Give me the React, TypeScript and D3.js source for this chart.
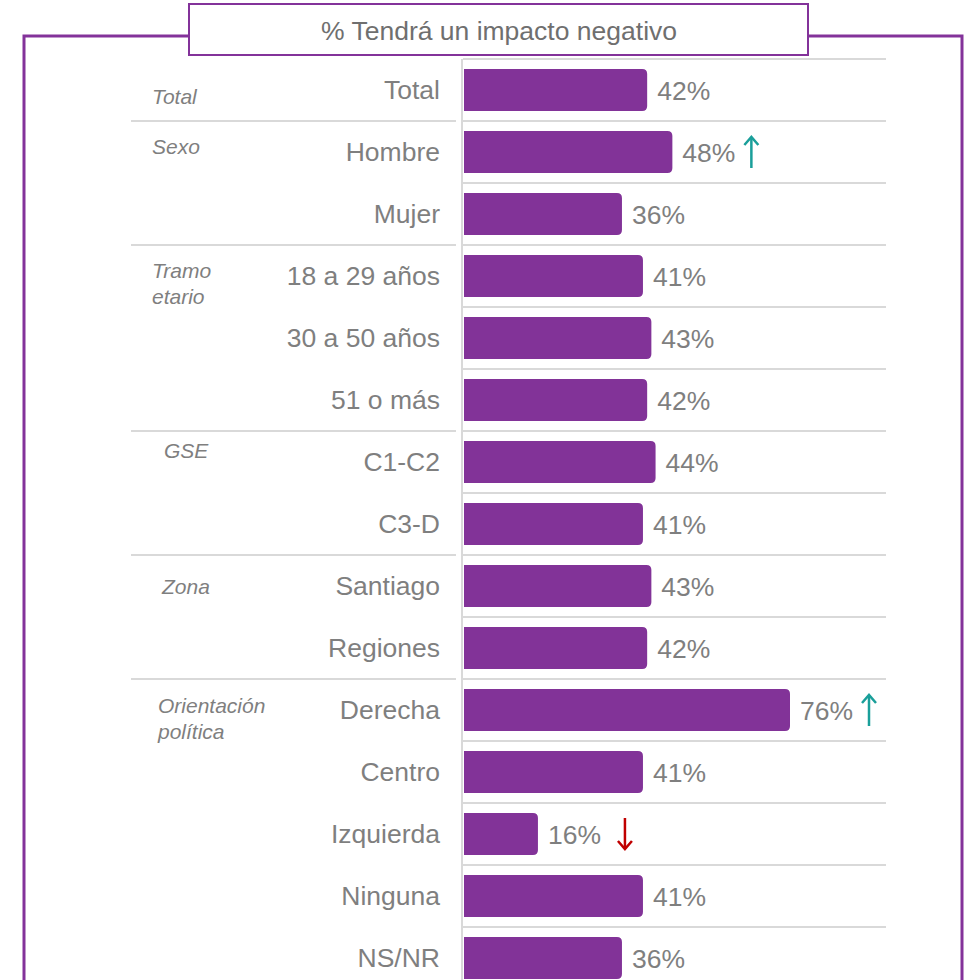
import React from "react";
import * as d3 from "d3";

const categories = ["Total","Hombre","Mujer","18 a 29 años","30 a 50 años","51 o más","C1-C2","C3-D","Santiago","Regiones","Derecha","Centro","Izquierda","Ninguna","NS/NR"];
const values = [42,48,36,41,43,42,44,41,43,42,76,41,16,41,36];
const markers = ["","up","","","","","","","","","up","","down","",""];
const groupNames = [["Total"],["Sexo"],["Tramo","etario"],["GSE"],["Zona"],["Orientación","política"]];
const groupStart = [0,1,3,6,8,10];
const title = "% Tendrá un impacto negativo";

const W = 971, H = 980;
const PURPLE = "#83329A";
const BAR = "#823398";
const GRID = "#d9d9d9";
const TXT = "#7f7f7f";
const FONT = "'Liberation Sans', Arial, sans-serif";

export default function App() {
  const y = d3.scaleBand<number>().domain(d3.range(categories.length)).range([59, 59 + 62 * categories.length]).paddingInner(0.32).paddingOuter(0.16);
  const step = y.step();
  const rowTop = (i: number) => 59 + step * i;
  const x = d3.scaleLinear().domain([-1.6, 76]).range([464, 790]);
  const x0 = 464;
  const groupLabelX = [152, 152, 152, 164, 162, 158];
  const groupLabelY = [104, 154, 278, 458, 594, 713];

  return (
    <svg width={W} height={H} style={{ position: "absolute", left: 0, top: 0, display: "block" }} fontFamily={FONT}>
      <rect width={W} height={H} fill="#fff" />
      <path d={`M24,980 L24,36 L188,36 M808,36 L962,36 L962,980`} fill="none" stroke={PURPLE} strokeWidth={3} />
      {d3.range(categories.length + 1).map(i => (
        <line key={"g" + i} x1={463} x2={886} y1={rowTop(i)} y2={rowTop(i)} stroke={GRID} strokeWidth={2} />
      ))}
      {groupStart.slice(1).map((s, i) => (
        <line key={"s" + i} x1={131} x2={456} y1={rowTop(s)} y2={rowTop(s)} stroke={GRID} strokeWidth={2} />
      ))}
      <line x1={462} x2={462} y1={59} y2={H} stroke={GRID} strokeWidth={2} />
      {values.map((v, i) => {
        const x1 = x(v), y0 = y(i)!, h = y.bandwidth(), r = 5;
        return (
          <path key={"b" + i} fill={BAR}
            d={`M${x0},${y0} L${x1 - r},${y0} Q${x1},${y0} ${x1},${y0 + r} L${x1},${y0 + h - r} Q${x1},${y0 + h} ${x1 - r},${y0 + h} L${x0},${y0 + h} Z`} />
        );
      })}
      {values.map((v, i) => (
        <text key={"v" + i} x={x(v) + 10} y={y(i)! + y.bandwidth() / 2 + 9.5} fontSize={26.5} fill={TXT}>{v}%</text>
      ))}
      {values.map((v, i) => {
        if (!markers[i]) return null;
        const up = markers[i] === "up";
        const cx = x(v) + 10 + 53 + (up ? 16 : 24);
        const cy = y(i)! + y.bandwidth() / 2;
        const top = cy - 16, bot = cy + 16;
        const col = up ? "#1a9f9a" : "#c00000";
        return (
          <g key={"a" + i} stroke={col} strokeWidth={2.5} fill="none" strokeLinecap="butt">
            <line x1={cx} x2={cx} y1={top + (up ? 1 : 0)} y2={bot - (up ? 0 : 1)} />
            {up
              ? <path d={`M${cx - 7},${top + 9} L${cx},${top + 1} L${cx + 7},${top + 9}`} />
              : <path d={`M${cx - 7},${bot - 9} L${cx},${bot - 1} L${cx + 7},${bot - 9}`} />}
          </g>
        );
      })}
      {categories.map((c, i) => (
        <text key={"c" + i} x={440} y={y(i)! + y.bandwidth() / 2 + 9} fontSize={26.5} fill={TXT} textAnchor="end">{c}</text>
      ))}
      {groupNames.map((g, gi) => (
        <text key={"gn" + gi} x={groupLabelX[gi]} y={groupLabelY[gi]} fontSize={21} fontStyle="italic" fill={TXT}>
          {g.map((line, li) => <tspan key={li} x={groupLabelX[gi]} dy={li === 0 ? 0 : 26}>{line}</tspan>)}
        </text>
      ))}
      <rect x={189} y={4} width={619} height={51} fill="#fff" stroke={PURPLE} strokeWidth={2} />
      <text x={499} y={40} fontSize={26.5} fill="#6f6f6f" textAnchor="middle">{title}</text>
    </svg>
  );
}
